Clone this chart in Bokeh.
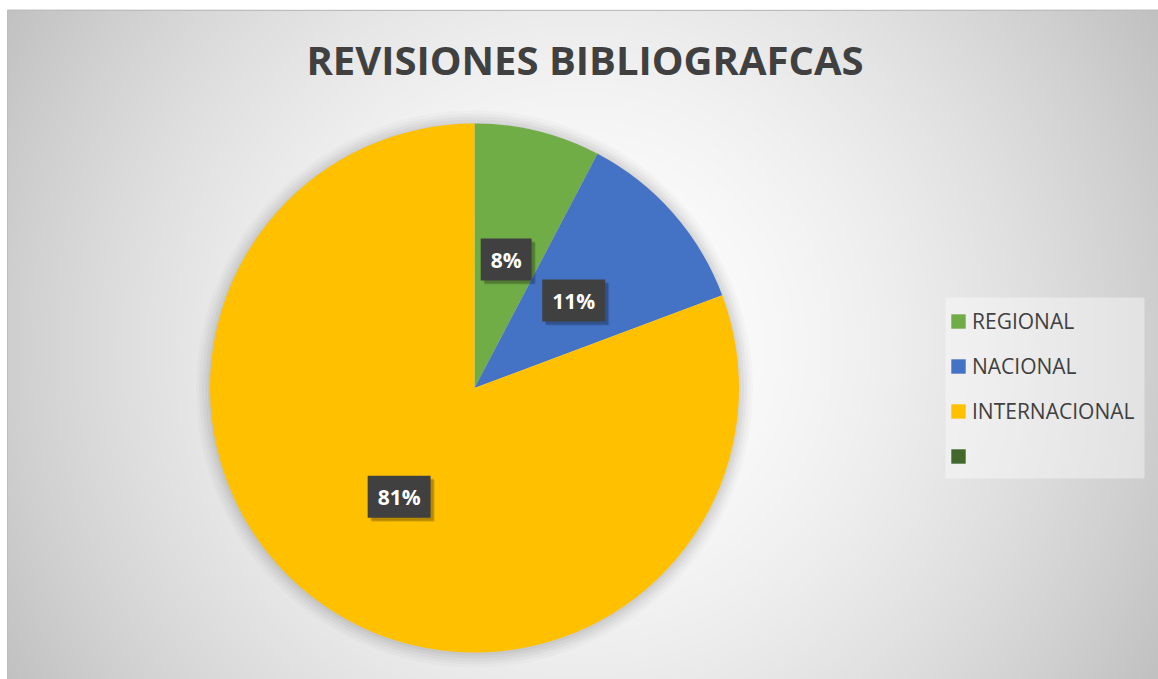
import numpy as np
from bokeh.plotting import figure
from bokeh.models import ColumnDataSource, Range1d, Legend, LegendItem
from bokeh.core.properties import value
from bokeh.embed import file_html
from bokeh.resources import INLINE

# ---------------- data ----------------
categories = ["REGIONAL", "NACIONAL", "INTERNACIONAL", ""]
values = [7.7, 11.6, 80.7, 0.0]
pct_labels = ["8%", "11%", "81%", ""]
colors = ["#70AD47", "#4472C4", "#FFC000", "#43682B"]
title_text = "REVISIONES BIBLIOGRAFCAS"

# ---------------- layout ----------------
W, H = 1158, 679
AX0, AX1, AY0, AY1 = 7, 1160, -2, 669      # chart area (data px, y up)
CX, CY, R = 474.0, 291.5, 264.5            # pie centre / radius
FONT = "Open Sans"

p = figure(width=W, height=H, x_range=Range1d(0, W), y_range=Range1d(0, H),
           output_backend="svg", toolbar_location=None, min_border=0,
           x_axis_location=None, y_axis_location=None)
p.grid.visible = False
p.outline_line_color = None
p.border_fill_color = "white"
p.background_fill_color = "white"

# radial gradient background of the chart area
sx = 2
aw, ah = AX1 - AX0, AY1 - AY0
nx, ny = aw // sx + 1, ah // sx + 1
xs = AX0 + (np.arange(nx) + 0.5) * sx
ys = AY0 + (np.arange(ny) + 0.5) * sx
XX, YY = np.meshgrid(xs, ys)
gcx, gcy = 580.0, 334.0
d = np.sqrt((XX - gcx) ** 2 + (YY - gcy) ** 2)
f = np.clip(d / np.sqrt(573.0 ** 2 + 335.0 ** 2), 0, 1)
g = (255 - 62 * f ** 1.7).astype(np.uint32)
img = (255 << 24) | (g << 16) | (g << 8) | g
p.image_rgba(image=[img.astype(np.uint32)], x=AX0, y=AY0, dw=nx * sx, dh=ny * sx)
p.quad(left=[AX0], right=[AX1], bottom=[AY0], top=[AY1], fill_color=None,
       line_color="#bdbdbd", line_width=1)

# ---------------- pie ----------------
vals = np.array(values, dtype=float)
frac = vals / vals.sum()
cum = np.concatenate([[0], np.cumsum(frac)])
start = np.pi / 2 - cum[1:] * 2 * np.pi
end = np.pi / 2 - cum[:-1] * 2 * np.pi
mid = (start + end) / 2
radius = [R if v > 0 else 0.0 for v in values]

src = ColumnDataSource(dict(cat=categories, val=values, start=start, end=end,
                            color=colors, radius=radius, label=pct_labels,
                            lx=CX + 0.5 * R * np.cos(mid), ly=CY + 0.5 * R * np.sin(mid)))

# soft shadow around the pie
for k, a in [(14, 0.02), (11, 0.025), (8, 0.03), (5, 0.035), (2, 0.04)]:
    p.circle(x=[CX], y=[CY - 1], radius=R + k, fill_color="black", fill_alpha=a, line_color=None)

wr = p.wedge(x=CX, y=CY, radius="radius", start_angle="start", end_angle="end",
             fill_color="color", line_color=None, source=src)

# data labels (only non-empty)
lab_src = ColumnDataSource(dict(x=src.data["lx"][:3], y=src.data["ly"][:3], t=pct_labels[:3]))
for off, a in [(4, 0.12), (3, 0.18)]:
    p.text(x="x", y="y", text="t", source=lab_src, x_offset=off, y_offset=off,
           text_font=value(FONT), text_font_style="bold", text_font_size="21px",
           text_align="center", text_baseline="middle", text_alpha=0,
           background_fill_color="black", background_fill_alpha=a, padding=(10, 7))
p.text(x="x", y="y", text="t", source=lab_src,
       text_font=value(FONT), text_font_style="bold", text_font_size="21px",
       text_color="white", text_align="center", text_baseline="middle",
       background_fill_color="#404040", padding=(10, 7))

# title
p.text(x=[584.5], y=[620], text=[title_text], text_font=value(FONT),
       text_font_style="bold", text_font_size="40px", text_color="#404040",
       text_align="center", text_baseline="alphabetic")

# legend box background (Excel-like translucent panel)
p.quad(left=[945], right=[1144], bottom=[201], top=[382], fill_color="white",
       fill_alpha=0.4, line_color=None)

# legend
items = [LegendItem(label=c, renderers=[wr], index=i) for i, c in enumerate(categories)]
legend = Legend(items=items, location=(949, 204), orientation="vertical",
                label_text_font=FONT, label_text_font_size="21px", label_text_color="#404040",
                glyph_width=18, glyph_height=18, label_height=38, label_standoff=5,
                spacing=7, padding=8, margin=0,
                background_fill_alpha=0, border_line_color=None)
p.add_layout(legend)

open("out.html", "w").write(file_html(p, INLINE))
